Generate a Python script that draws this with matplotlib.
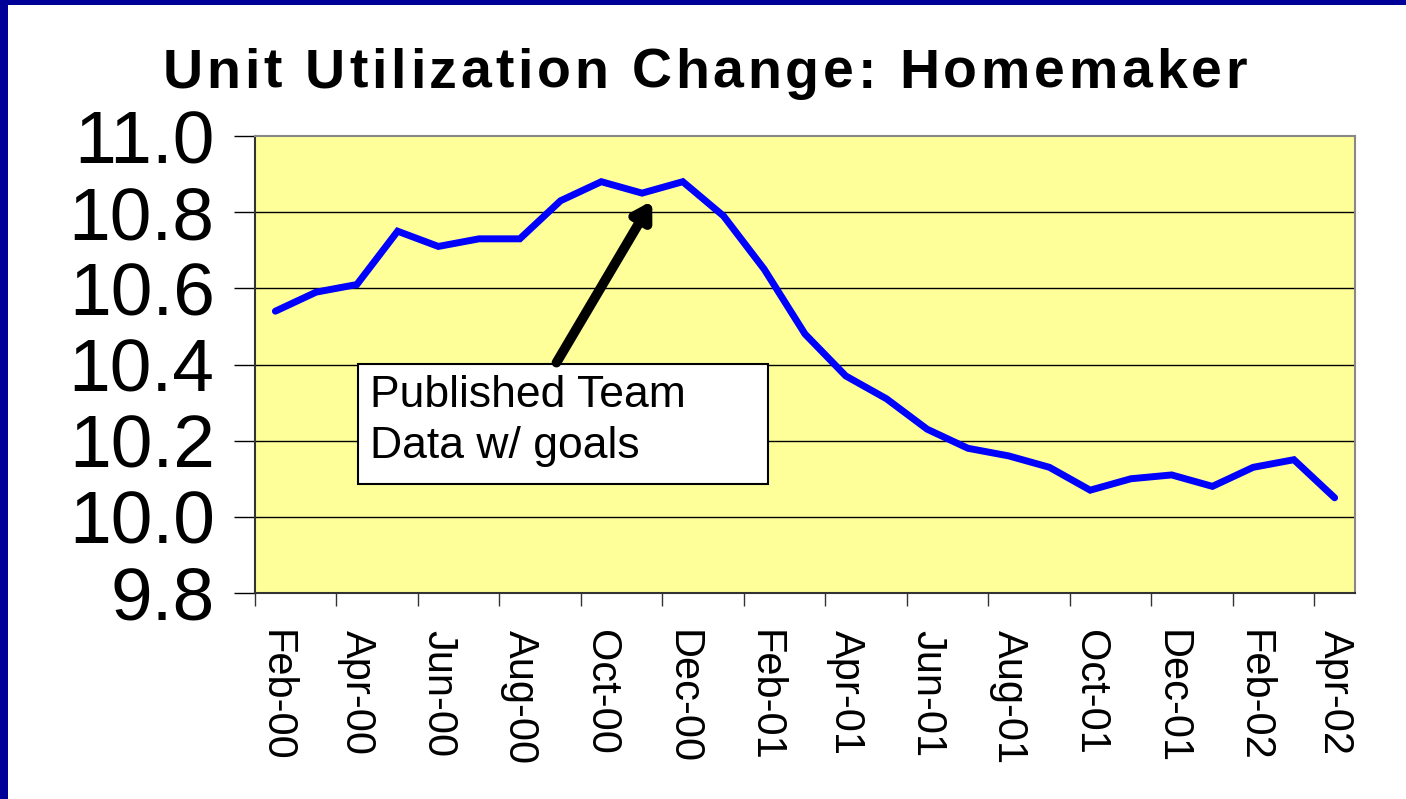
import numpy as np
import matplotlib
matplotlib.use("Agg")
import matplotlib.pyplot as plt
from matplotlib.patches import Rectangle
from matplotlib import font_manager
from matplotlib.ft2font import FT2Font

plt.rcParams['font.family'] = ['Liberation Sans', 'DejaVu Sans']

# monthly data, Feb-00 .. Apr-02
months = ['Feb-00', 'Mar-00', 'Apr-00', 'May-00', 'Jun-00', 'Jul-00', 'Aug-00',
          'Sep-00', 'Oct-00', 'Nov-00', 'Dec-00', 'Jan-01', 'Feb-01', 'Mar-01',
          'Apr-01', 'May-01', 'Jun-01', 'Jul-01', 'Aug-01', 'Sep-01', 'Oct-01',
          'Nov-01', 'Dec-01', 'Jan-02', 'Feb-02', 'Mar-02', 'Apr-02']
utilization = [10.54, 10.59, 10.61, 10.75, 10.71, 10.73, 10.73,
               10.83, 10.88, 10.85, 10.88, 10.79, 10.65, 10.48,
               10.37, 10.31, 10.23, 10.18, 10.16, 10.13, 10.07,
               10.10, 10.11, 10.08, 10.13, 10.15, 10.05]
yticks = [9.8, 10.0, 10.2, 10.4, 10.6, 10.8, 11.0]
title = 'Unit Utilization Change: Homemaker'

W, H = 1406, 799
DPI = 100
fig = plt.figure(figsize=(W / DPI, H / DPI), dpi=DPI)
fig.patch.set_facecolor('white')

# navy frame (top and left edges)
navy = '#000099'
fig.patches.append(Rectangle((0, 1 - 5 / H), 1, 5 / H, transform=fig.transFigure,
                             facecolor=navy, edgecolor='none', zorder=0))
fig.patches.append(Rectangle((0, 0), 8 / W, 1, transform=fig.transFigure,
                             facecolor=navy, edgecolor='none', zorder=0))

ax = fig.add_axes([255 / W, 1 - 593 / H, 1100 / W, 457 / H])
ax.set_facecolor('#FFFF99')

x = np.arange(len(months))
ax.plot(x, utilization, color='#0000FF', lw=5, solid_joinstyle='miter',
        solid_capstyle='round', zorder=3)

ax.set_xlim(-0.5, len(months) - 0.5)
ax.set_ylim(9.8, 11.0)

ax.set_yticks(yticks)
ax.set_yticklabels(['%.1f' % v for v in yticks])
ax.tick_params(axis='y', direction='out', length=15, width=1, pad=14,
               labelsize=54, colors='black')
for v in yticks[1:-1]:
    ax.axhline(v, color='black', lw=1, zorder=1)

ax.set_xticks(x[::2])
ax.set_xticklabels(months[::2], rotation=270, ha='center', va='top')
ax.set_xticks(np.arange(-0.5, len(months) - 0.5, 2), minor=True)
ax.tick_params(axis='x', which='major', length=0, pad=27, labelsize=30)
ax.tick_params(axis='x', which='minor', direction='out', length=9, width=1,
               color='#333333')

for s in ['left', 'bottom']:
    ax.spines[s].set_color('#333333')
    ax.spines[s].set_linewidth(1.5)
for s in ['top', 'right']:
    ax.spines[s].set_color('#888888')
    ax.spines[s].set_linewidth(1.5)

# callout box + arrow
ax.add_patch(Rectangle((103 / 1100, 109 / 457), 410 / 1100, 120 / 457,
                       transform=ax.transAxes, facecolor='white',
                       edgecolor='black', lw=1.5, zorder=4))
ax.text(115 / 1100, 218 / 457, 'Published Team\nData w/ goals',
        transform=ax.transAxes, fontsize=32, ha='left', va='top',
        linespacing=1.32, zorder=5)
ax.annotate('', xy=(9.25, 10.83), xytext=(6.9, 10.405),
            arrowprops=dict(arrowstyle='-|>,head_length=1.0,head_width=0.6',
                            color='black', lw=7, shrinkA=0, shrinkB=0),
            zorder=5)

# title, letter-spaced like the original
tsize = 40
prop = font_manager.FontProperties(family='Liberation Sans', weight='bold')
ft = FT2Font(font_manager.findfont(prop))
ft.set_size(tsize, DPI)
adv = [ft.load_char(ord(c)).linearHoriAdvance / 65536.0 for c in title]
track = 3.8
total = sum(adv) + track * (len(title) - 1)
xpos = 705 - total / 2
for c, a in zip(title, adv):
    if c != ' ':
        fig.text(xpos / W, 1 - 88 / H, c, ha='left', va='baseline',
                 fontsize=tsize, fontproperties=prop)
    xpos += a + track

fig.savefig('out.png', dpi=DPI)
